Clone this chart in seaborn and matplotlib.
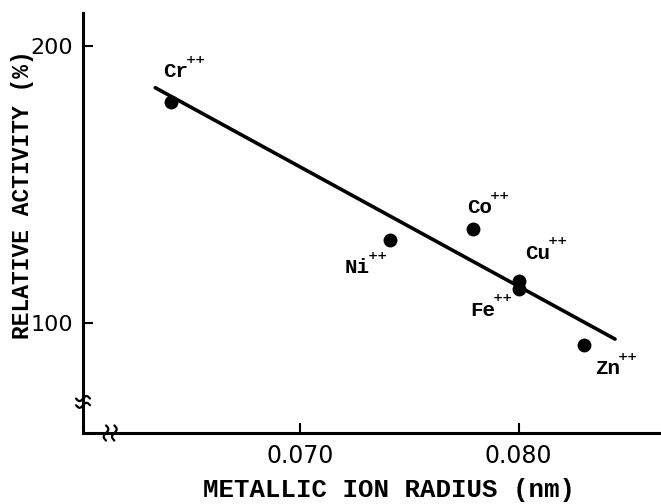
import numpy as np
import pandas as pd
import matplotlib
matplotlib.use("Agg")
import matplotlib.pyplot as plt
import seaborn as sns

# ---- data ----
ions = ["Cr", "Ni", "Co", "Cu", "Fe", "Zn"]
radius = [0.0641, 0.0741, 0.0779, 0.0800, 0.0800, 0.0830]
activity = [180, 130, 134, 115, 112, 92]
fit_x = [0.0634, 0.0844]
fit_y = [185, 94]
x_ticks = [0.070, 0.080]
x_tick_labels = ["0.070", "0.080"]
y_ticks = [100, 200]
y_tick_labels = ["100", "200"]
# label offsets in pixels (dx, dy)
label_offsets = {"Cr": (5, 30), "Ni": (-32, -28), "Co": (7, 21), "Cu": (19, 28), "Fe": (-36, -21), "Zn": (23, -24)}

df = pd.DataFrame({"ion": ions, "radius": radius, "activity": activity})
fit = pd.DataFrame({"x": fit_x, "y": fit_y})

sns.set_style("ticks")
plt.rcParams["font.family"] = ["Liberation Mono", "DejaVu Sans Mono"]
plt.rcParams["text.color"] = "black"
plt.rcParams["xtick.color"] = "black"
plt.rcParams["ytick.color"] = "black"
plt.rcParams["axes.labelcolor"] = "black"

fig = plt.figure(figsize=(6.61, 5.04), dpi=100)
ax = fig.add_axes([0.1256, 0.1409, 0.8744, 0.833])

sns.lineplot(data=fit, x="x", y="y", ax=ax, color="black", lw=2.6, sort=False)
sns.scatterplot(data=df, x="radius", y="activity", ax=ax, color="black", s=100,
                edgecolor="black", linewidth=0, zorder=3)

for _, r in df.iterrows():
    dx, dy = label_offsets[r["ion"]]
    ax.annotate(r["ion"], (r["radius"], r["activity"]),
                xytext=(dx, dy), textcoords="offset pixels",
                ha="center", va="center", fontsize=15, fontweight="bold")
    ax.annotate("⁺⁺", (r["radius"], r["activity"]),
                xytext=(dx + 10, dy - 1), textcoords="offset pixels",
                ha="left", va="bottom", fontsize=14, fontweight="bold",
                family=["DejaVu Sans"])

ax.set_xlim(0.0601, 0.0865)
ax.set_ylim(60, 212)
ax.set_xticks(x_ticks)
ax.set_xticklabels(x_tick_labels)
ax.set_yticks(y_ticks)
ax.set_yticklabels(y_tick_labels)
ax.tick_params(direction="in", length=7, width=1.5, colors="black")
ax.tick_params(axis="x", labelsize=17, pad=8)
ax.tick_params(axis="y", labelsize=16, pad=7)
for lab in ax.get_xticklabels() + ax.get_yticklabels():
    lab.set_family(["DejaVu Sans"])

ax.set_xlabel("METALLIC ION RADIUS (nm)", fontsize=18.5, fontweight="bold")
ax.set_ylabel("RELATIVE ACTIVITY (%)", fontsize=16.5, fontweight="bold")
ax.xaxis.set_label_coords(0.53, -0.108)
ax.yaxis.set_label_coords(-0.084, 0.567)

sns.despine(ax=ax)
for sp in ["left", "bottom"]:
    ax.spines[sp].set_linewidth(2.2)
    ax.spines[sp].set_color("black")

# axis break marks
t = np.linspace(-1, 1, 30)
for off in (-0.008, 0.008):
    ax.plot(t * 0.012, 0.074 + off + 0.006 * np.sin(t * np.pi), transform=ax.transAxes,
            color="black", lw=1.6, clip_on=False)
    ax.plot(0.047 + off * 0.9 + 0.004 * np.sin(t * np.pi), t * 0.018, transform=ax.transAxes,
            color="black", lw=1.6, clip_on=False)

fig.savefig("out.png", dpi=100)
